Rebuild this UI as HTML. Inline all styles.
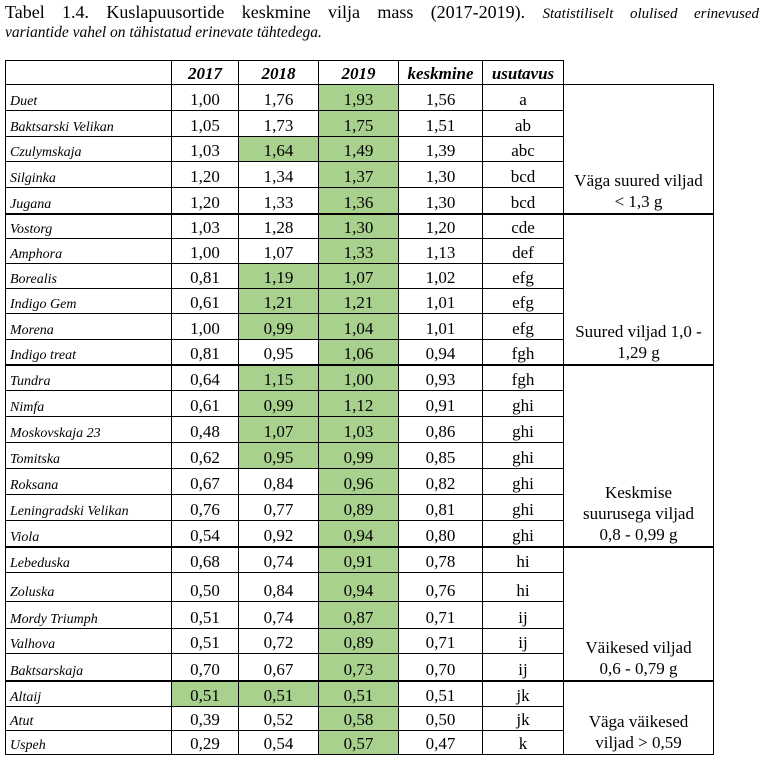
<!DOCTYPE html>
<html><head><meta charset="utf-8">
<style>
html,body{margin:0;padding:0;background:#fff;}
body{width:773px;height:773px;position:relative;overflow:hidden;font-family:"Liberation Serif","Times New Roman",serif;color:#000;}
.t1{position:absolute;left:5px;top:2px;width:754px;font-size:18px;line-height:20px;text-align:justify;text-align-last:justify;white-space:nowrap;}
.t1 i{font-size:15px;}
.t2{position:absolute;left:5px;top:23px;font-size:15.5px;line-height:20px;font-style:italic;}
table{position:absolute;left:5px;top:60px;border-collapse:collapse;table-layout:fixed;}
td{border:1px solid #000;padding:0;font-size:17px;text-align:center;vertical-align:bottom;line-height:20px;}
td.n{font-size:14px;font-style:italic;text-align:left;padding-left:4px;line-height:16px;}
th{border:1px solid #000;font-size:17px;font-style:italic;font-weight:bold;vertical-align:bottom;line-height:20px;padding:0;}
th.e{border:none;border-left:1px solid #000;}
.g{background:#a9d18e;}
tr.k td{border-top:2px solid #000;}
td.r{line-height:21px;padding-bottom:1px;}
</style></head><body>
<div class="t1">Tabel 1.4. Kuslapuusortide keskmine vilja mass (2017-2019). <i>Statistiliselt olulised erinevused</i></div>
<div class="t2">variantide vahel on tähistatud erinevate tähtedega.</div>
<table>
<colgroup><col style="width:166px"><col style="width:67px"><col style="width:80px"><col style="width:80px"><col style="width:84px"><col style="width:81px"><col style="width:150px"></colgroup>
<tr style="height:24px"><th></th><th>2017</th><th>2018</th><th>2019</th><th>keskmine</th><th>usutavus</th><th class="e"></th></tr>
<tr style="height:26px"><td class="n">Duet</td><td>1,00</td><td>1,76</td><td class="g">1,93</td><td>1,56</td><td>a</td><td rowspan="5" class="r">Väga suured viljad<br>&lt; 1,3 g</td></tr>
<tr style="height:26px"><td class="n">Baktsarski Velikan</td><td>1,05</td><td>1,73</td><td class="g">1,75</td><td>1,51</td><td>ab</td></tr>
<tr style="height:25px"><td class="n">Czulymskaja</td><td>1,03</td><td class="g">1,64</td><td class="g">1,49</td><td>1,39</td><td>abc</td></tr>
<tr style="height:26px"><td class="n">Silginka</td><td>1,20</td><td>1,34</td><td class="g">1,37</td><td>1,30</td><td>bcd</td></tr>
<tr style="height:26px"><td class="n">Jugana</td><td>1,20</td><td>1,33</td><td class="g">1,36</td><td>1,30</td><td>bcd</td></tr>
<tr class="k" style="height:25px"><td class="n">Vostorg</td><td>1,03</td><td>1,28</td><td class="g">1,30</td><td>1,20</td><td>cde</td><td rowspan="6" class="r">Suured viljad 1,0 -<br>1,29 g</td></tr>
<tr style="height:25px"><td class="n">Amphora</td><td>1,00</td><td>1,07</td><td class="g">1,33</td><td>1,13</td><td>def</td></tr>
<tr style="height:25px"><td class="n">Borealis</td><td>0,81</td><td class="g">1,19</td><td class="g">1,07</td><td>1,02</td><td>efg</td></tr>
<tr style="height:25px"><td class="n">Indigo Gem</td><td>0,61</td><td class="g">1,21</td><td class="g">1,21</td><td>1,01</td><td>efg</td></tr>
<tr style="height:26px"><td class="n">Morena</td><td>1,00</td><td class="g">0,99</td><td class="g">1,04</td><td>1,01</td><td>efg</td></tr>
<tr style="height:25px"><td class="n">Indigo treat</td><td>0,81</td><td>0,95</td><td class="g">1,06</td><td>0,94</td><td>fgh</td></tr>
<tr class="k" style="height:26px"><td class="n">Tundra</td><td>0,64</td><td class="g">1,15</td><td class="g">1,00</td><td>0,93</td><td>fgh</td><td rowspan="7" class="r">Keskmise<br>suurusega viljad<br>0,8 - 0,99 g</td></tr>
<tr style="height:26px"><td class="n">Nimfa</td><td>0,61</td><td class="g">0,99</td><td class="g">1,12</td><td>0,91</td><td>ghi</td></tr>
<tr style="height:26px"><td class="n">Moskovskaja 23</td><td>0,48</td><td class="g">1,07</td><td class="g">1,03</td><td>0,86</td><td>ghi</td></tr>
<tr style="height:26px"><td class="n">Tomitska</td><td>0,62</td><td class="g">0,95</td><td class="g">0,99</td><td>0,85</td><td>ghi</td></tr>
<tr style="height:26px"><td class="n">Roksana</td><td>0,67</td><td>0,84</td><td class="g">0,96</td><td>0,82</td><td>ghi</td></tr>
<tr style="height:26px"><td class="n">Leningradski Velikan</td><td>0,76</td><td>0,77</td><td class="g">0,89</td><td>0,81</td><td>ghi</td></tr>
<tr style="height:26px"><td class="n">Viola</td><td>0,54</td><td>0,92</td><td class="g">0,94</td><td>0,80</td><td>ghi</td></tr>
<tr class="k" style="height:26px"><td class="n">Lebeduska</td><td>0,68</td><td>0,74</td><td class="g">0,91</td><td>0,78</td><td>hi</td><td rowspan="5" class="r">Väikesed viljad<br>0,6 - 0,79 g</td></tr>
<tr style="height:29px"><td class="n">Zoluska</td><td>0,50</td><td>0,84</td><td class="g">0,94</td><td>0,76</td><td>hi</td></tr>
<tr style="height:27px"><td class="n">Mordy Triumph</td><td>0,51</td><td>0,74</td><td class="g">0,87</td><td>0,71</td><td>ij</td></tr>
<tr style="height:25px"><td class="n">Valhova</td><td>0,51</td><td>0,72</td><td class="g">0,89</td><td>0,71</td><td>ij</td></tr>
<tr style="height:27px"><td class="n">Baktsarskaja</td><td>0,70</td><td>0,67</td><td class="g">0,73</td><td>0,70</td><td>ij</td></tr>
<tr class="k" style="height:26px"><td class="n">Altaij</td><td class="g">0,51</td><td class="g">0,51</td><td class="g">0,51</td><td>0,51</td><td>jk</td><td rowspan="3" class="r">Väga väikesed<br>viljad &gt; 0,59</td></tr>
<tr style="height:24px"><td class="n">Atut</td><td>0,39</td><td>0,52</td><td class="g">0,58</td><td>0,50</td><td>jk</td></tr>
<tr style="height:24px"><td class="n">Uspeh</td><td>0,29</td><td>0,54</td><td class="g">0,57</td><td>0,47</td><td>k</td></tr>
</table>
</body></html>
